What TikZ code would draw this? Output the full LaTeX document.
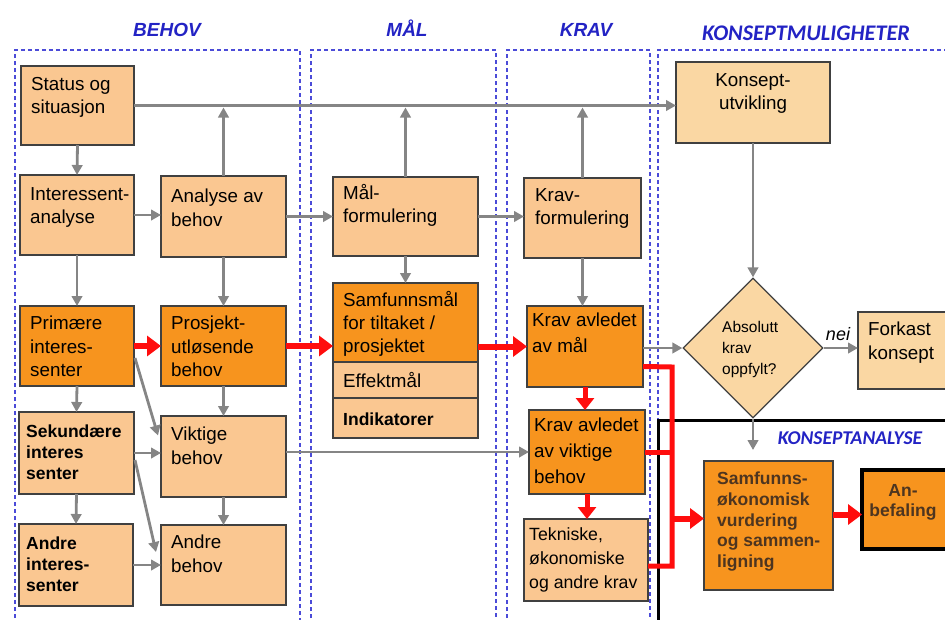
\documentclass[tikz,border=0pt]{standalone}
\usepackage{fontspec}
\setmainfont{Liberation Sans}
\newfontfamily\calfont{Carlito}
\usetikzlibrary{shapes.geometric,arrows.meta,calc}
\definecolor{lor}{HTML}{FAC791}
\definecolor{por}{HTML}{FAD7A3}
\definecolor{dor}{HTML}{F7941E}
\definecolor{bord}{HTML}{404040}
\definecolor{hdr}{HTML}{2323C4}
\definecolor{frm}{HTML}{4B4BD8}
\definecolor{gcol}{HTML}{858585}
\definecolor{rcol}{HTML}{FF0D0D}
\definecolor{brn}{HTML}{4D3520}
\newcommand\bx[6]{\node[#2,minimum width=#5pt-#3pt,minimum height=#6pt-#4pt] (#1) at ({(#3+#5)/2},{(#4+#6)/2}) {};}
\begin{document}
\begin{tikzpicture}[x=1pt,y=-1pt,
 box/.style={draw=bord,line width=1.3pt,inner sep=0pt,outer sep=0pt},
 lbox/.style={box,fill=lor}, dbox/.style={box,fill=dor}, pbox/.style={box,fill=por},
 txt/.style={inner sep=0pt,align=left,anchor=north west,font=\fontsize{18.8}{23.3}\selectfont},
 ktxt/.style={txt,font=\fontsize{18.8}{26}\selectfont},
 ttxt/.style={txt,font=\fontsize{17.7}{24}\selectfont},
 btxt/.style={txt,font=\fontsize{17.5}{20.6}\selectfont\bfseries},
 dtxt/.style={txt,font=\fontsize{15.5}{21}\selectfont},
 garr/.style={draw=gcol,line width=2.8pt,-{Triangle[length=10pt,width=10.5pt]}},
 rarr/.style={draw=rcol,line width=6pt,-{Triangle[length=14pt,width=20pt]}},
 rarrs/.style={draw=rcol,line width=5pt,-{Triangle[length=12pt,width=18pt]}},
 rln/.style={draw=rcol,line width=5pt},
 frame/.style={draw=frm,dash pattern=on 4pt off 3pt,line width=1.2pt},
 hd/.style={inner sep=0pt,anchor=base,text=hdr,font=\fontsize{19}{22}\selectfont\bfseries\itshape},
 hdc/.style={inner sep=0pt,anchor=base,text=hdr,font=\calfont\fontsize{22.3}{26}\selectfont\bfseries\itshape}
]
\useasboundingbox (0,0) rectangle (945,619);
\clip (0,0) rectangle (945,619);
% column frames
\draw[frame] (15,625) -- (15,50) -- (300,50) -- (300,625);
\draw[frame] (311,625) -- (311,50) -- (496,50) -- (496,625);
\draw[frame] (507,625) -- (507,50) -- (650,50) -- (650,625);
\draw[frame] (658,625) -- (658,50) -- (950,50);
% headers
\node[hd] (hbehov) at (167,36) {BEHOV};
\node[hd] (hmal) at (407,36) {MÅL};
\node[hd] (hkrav) at (586,36) {KRAV};
\node[hdc] (hkons) at (806,40) {KONSEPTMULIGHETER};
% konseptanalyse frame
\draw[line width=3pt] (950,420) -- (658,420) -- (658,625);
\node[hdc,font=\calfont\fontsize{19.5}{22}\selectfont\bfseries\itshape] (hka) at (850,444) {KONSEPTANALYSE};
% boxes
\bx{status}{lbox}{21}{66}{134}{145}
\bx{inter}{lbox}{20}{175}{134}{255}
\bx{analyse}{lbox}{161}{176}{286}{257}
\bx{mal}{lbox}{333}{177}{478}{256}
\bx{kravf}{lbox}{524}{178}{641}{258}
\bx{konsept}{pbox}{676}{62}{830}{143}
\bx{prim}{dbox}{20}{306}{134}{386}
\bx{prosj}{dbox}{161}{306}{286}{386}
\bx{samf}{dbox}{333}{283}{478}{362}
\bx{eff}{lbox}{333}{362}{478}{398}
\bx{ind}{lbox}{333}{398}{478}{438}
\bx{sek}{lbox}{19}{412}{134}{494}
\bx{viktige}{lbox}{161}{416}{286}{497}
\bx{andrei}{lbox}{19}{524}{133}{606}
\bx{andreb}{lbox}{161}{525}{286}{605}
\bx{kravm}{dbox}{527}{306}{643}{387}
\bx{kravv}{dbox}{529}{410}{645}{494}
\bx{tek}{lbox}{524}{519}{648}{601}
\bx{fork}{pbox}{858}{312}{955}{389}
\bx{sok}{dbox}{704}{461}{833}{590}
\bx{anb}{dbox,draw=black,line width=3.5pt}{862}{470}{955}{549}
\node[shape=diamond,aspect=1,minimum width=140pt,minimum height=140pt,inner sep=0pt,draw=bord,line width=1.3pt,fill=por] (dia) at (753,348) {};
% texts
\node[txt] (status-t) at (31,77) {Status og\\situasjon};
\node[txt] (inter-t) at (30,187) {Interessent-\\analyse};
\node[txt] (analyse-t) at (171,189) {Analyse av\\behov};
\node[txt] (mal-t) at (343,184) {Mål-\\formulering};
\node[txt] (kravf-t) at (535,188) {Krav-\\formulering};
\node[txt,align=center,anchor=north] (konsept-t) at (753,73) {Konsept-\\utvikling};
\node[txt] (prim-t) at (30,316) {Primære\\interes-\\senter};
\node[txt] (prosj-t) at (171,316) {Prosjekt-\\utløsende\\behov};
\node[txt] (samf-t) at (343,291) {Samfunnsmål\\for tiltaket /\\prosjektet};
\node[txt,anchor=base west] (eff-t) at (343,387) {Effektmål};
\node[btxt,anchor=base west] (ind-t) at (343,425) {Indikatorer};
\node[btxt] (sek-t) at (26,425) {Sekundære\\interes\\senter};
\node[txt] (viktige-t) at (171,427) {Viktige\\behov};
\node[btxt] (andrei-t) at (26,537) {Andre\\interes-\\senter};
\node[txt] (andreb-t) at (171,535) {Andre\\behov};
\node[ktxt] (kravm-t) at (532,313) {Krav avledet\\av mål};
\node[ktxt] (kravv-t) at (534,418) {Krav avledet\\av viktige\\behov};
\node[ttxt] (tek-t) at (529,527) {Tekniske,\\økonomiske\\og andre krav};
\node[dtxt] (dia-t) at (722,321) {Absolutt\\krav\\oppfylt?};
\node[txt] (fork-t) at (868,322) {Forkast\\konsept};
\node[btxt,text=brn] (sok-t) at (717,472) {Samfunns-\\økonomisk\\vurdering\\og sammen-\\ligning};
\node[btxt,text=brn,align=center,anchor=north] (anb-t) at (903,484) {An-\\befaling};
\node[inner sep=0pt,anchor=base,font=\fontsize{18}{20}\selectfont\itshape] (nei) at (838,340) {nei};
% gray connectors
\draw[garr] (status.east) -- (status.east -| konsept.west);
\draw[garr] (analyse.north) -- ($(analyse.north |- status.east)+(0,2)$);
\draw[garr] (mal.north) -- ($(mal.north |- status.east)+(0,2)$);
\draw[garr] (kravf.north) -- ($(kravf.north |- status.east)+(0,2)$);
\draw[garr] (status.south) -- (inter.north);
\draw[garr] (inter.east) -- (inter.east -| analyse.west);
\draw[garr] (analyse.east) -- (analyse.east -| mal.west);
\draw[garr] (mal.east) -- (mal.east -| kravf.west);
\draw[garr] (inter.south) -- (prim.north);
\draw[garr] (analyse.south) -- (prosj.north);
\draw[garr] (mal.south) -- (samf.north);
\draw[garr] (kravf.south) -- (kravf.south |- kravm.north);
\draw[garr] (prim.south) -- (sek.north);
\draw[garr] (prosj.south) -- (viktige.north);
\draw[garr] ($(prim.east)+(1,12)$) -- ($(viktige.west)+(-3,-21)$);
\draw[garr] (sek.east) -- (sek.east -| viktige.west);
\draw[garr] ($(sek.east)+(1,7)$) -- ($(andreb.west)+(-5,-13)$);
\draw[garr] (sek.south) -- (andrei.north);
\draw[garr] (viktige.south) -- (andreb.north);
\draw[garr] (andrei.east) -- (andrei.east -| andreb.west);
\draw[garr] (kravv.west -| viktige.east) -- (kravv.west);
\draw[garr] (dia.west -| kravm.east) -- (dia.west);
\draw[garr] (dia.east) -- (dia.east -| fork.west);
\draw[garr] (konsept.south) -- (dia.north);
\coordinate (dd) at (753,450);
\draw[garr] (dia.south) -- (dd);
% red connectors
\draw[rarr] (prim.east) -- (prim.east -| prosj.west);
\draw[rarr] (prosj.east) -- (prosj.east -| samf.west);
\draw[rarr] (kravm.west -| samf.east) -- (kravm.west);
\draw[rarrs] (kravm.south) -- (kravm.south |- kravv.north);
\draw[rarrs] (kravv.south) -- (kravv.south |- tek.north);
\coordinate (jt) at (672,367);
\coordinate (jb) at (672,566);
\draw[rln] ($(kravm.east)+(0,20)$) -- (jt) -- (jb) -- (jb -| tek.east);
\draw[rln] (kravv.east) -- (kravv.east -| jt);
\draw[rarr] ($(sok.west -| jt)+(0,-7)$) -- ($(sok.west)+(0,-7)$);
\draw[rarr] ($(sok.east)+(0,-11)$) -- ($(sok.east -| anb.west)+(0,-11)$);
\end{tikzpicture}
\end{document}
